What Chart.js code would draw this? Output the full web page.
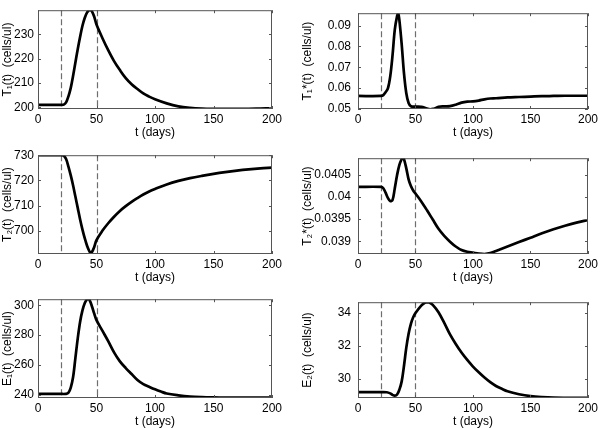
<!DOCTYPE html>
<html>
<head>
<meta charset="utf-8">
<script src="https://cdn.jsdelivr.net/npm/chart.js@4.4.0/dist/chart.umd.min.js"></script>
<style>
  html, body { margin: 0; padding: 0; background: #fff; }
  #wrap { position: relative; width: 601px; height: 428px; overflow: hidden; background: #fff; }
  #wrap canvas { position: absolute; }
</style>
</head>
<body>
<div id="wrap">
  <canvas id="t1" width="300" height="140" style="left:0;top:-1px"></canvas>
  <canvas id="t1s" width="301" height="140" style="left:300px;top:-1px"></canvas>
  <canvas id="t2" width="300" height="140" style="left:0;top:144px"></canvas>
  <canvas id="t2s" width="301" height="140" style="left:300px;top:144px"></canvas>
  <canvas id="e1" width="300" height="140" style="left:0;top:288px"></canvas>
  <canvas id="e2" width="301" height="140" style="left:300px;top:288px"></canvas>
</div>
<script>
// shared x axis
const dayTicks = [0, 50, 100, 150, 200];
const markerDays = [20, 50];

// T1(t)
const t1Days = [0, 20, 22, 24, 26, 28, 30, 32, 34, 36, 38, 40, 42, 44, 45, 46, 48, 50, 55, 60, 65, 70, 75, 80, 85, 90, 95, 100, 110, 120, 130, 140, 150, 160, 170, 180, 190, 200];
const t1Values = [201, 201, 201.1, 202, 204.5, 208, 213, 218.5, 224, 229, 233.5, 236.8, 239, 240, 240, 239.5, 237.3, 234, 228.5, 223.5, 219, 215.3, 212, 209.5, 207.5, 205.7, 204.4, 203.3, 201.6, 200.4, 199.8, 199.5, 199.4, 199.4, 199.4, 199.4, 199.5, 199.6];
const t1Ticks = [200, 210, 220, 230];

// T1*(t)
const t1sDays = [0, 20, 22, 24, 26, 28, 30, 32, 34, 35, 36, 38, 40, 42, 44, 46, 50, 55, 60, 63, 66, 70, 75, 80, 85, 90, 95, 100, 105, 110, 115, 120, 130, 140, 150, 160, 170, 180, 190, 200];
const t1sValues = [0.0562, 0.0562, 0.0566, 0.058, 0.0598, 0.0655, 0.0755, 0.088, 0.0945, 0.0958, 0.0925, 0.081, 0.067, 0.0575, 0.0528, 0.0513, 0.0511, 0.051, 0.0502, 0.0498, 0.05, 0.051, 0.0512, 0.0513, 0.052, 0.053, 0.0535, 0.0536, 0.054, 0.0546, 0.055, 0.0551, 0.0555, 0.0557, 0.0559, 0.0561, 0.0562, 0.0563, 0.0563, 0.0563];
const t1sTicks = [0.05, 0.06, 0.07, 0.08, 0.09];

// T2(t)
const t2Days = [0, 20, 22, 24, 26, 28, 30, 32, 34, 36, 38, 40, 42, 44, 45, 46, 48, 50, 55, 60, 65, 70, 75, 80, 85, 90, 95, 100, 110, 120, 130, 140, 150, 160, 170, 180, 190, 200];
const t2Values = [730, 730, 729.8, 728.5, 725.5, 722, 718, 713.5, 709, 704.5, 700.5, 697, 694, 691.8, 691.2, 691.5, 693.5, 696.3, 700, 703, 705.6, 707.9, 709.8, 711.5, 713, 714.4, 715.6, 716.6, 718.4, 719.8, 720.9, 721.8, 722.6, 723.3, 723.9, 724.4, 724.8, 725.1];
const t2Ticks = [700, 710, 720, 730];

// T2*(t)
const t2sDays = [0, 20, 22, 24, 26, 28, 30, 32, 34, 36, 38, 39, 40, 42, 44, 46, 48, 50, 55, 60, 65, 70, 75, 80, 85, 90, 95, 100, 105, 110, 115, 120, 130, 140, 150, 160, 170, 180, 190, 200];
const t2sValues = [0.04023, 0.04023, 0.0402, 0.0401, 0.03998, 0.03991, 0.03993, 0.0402, 0.0405, 0.04073, 0.04086, 0.0409, 0.04086, 0.04065, 0.0404, 0.04025, 0.04015, 0.04008, 0.0399, 0.0397, 0.03949, 0.03928, 0.03912, 0.03899, 0.03888, 0.0388, 0.03876, 0.03874, 0.03872, 0.03871, 0.03873, 0.03878, 0.03888, 0.03898, 0.03908, 0.03918, 0.03927, 0.03935, 0.03942, 0.03948];
const t2sTicks = [0.039, 0.0395, 0.04, 0.0405];

// E1(t)
const e1Days = [0, 20, 24, 26, 28, 30, 32, 34, 36, 38, 40, 42, 43, 44, 46, 48, 50, 55, 60, 65, 70, 75, 80, 85, 90, 95, 100, 105, 110, 120, 130, 140, 150, 160, 180, 200];
const e1Values = [240.7, 240.7, 240.8, 241.5, 245, 252, 265, 278, 289, 296.5, 301.5, 304, 304.2, 303.5, 299.5, 294.5, 290, 283, 276, 268.5, 262.5, 258, 254, 250, 247.3, 245.5, 243.8, 242.3, 241, 239.8, 239, 238.6, 238.4, 238.3, 238.3, 238.3];
const e1Ticks = [240, 260, 280, 300];

// E2(t)
const e2Days = [0, 20, 25, 28, 30, 32, 34, 36, 38, 40, 42, 44, 46, 48, 50, 55, 58, 60, 62, 65, 70, 75, 80, 85, 90, 95, 100, 105, 110, 115, 120, 125, 130, 140, 150, 160, 170, 185, 200];
const e2Values = [29.2, 29.2, 29.19, 29.12, 29.03, 28.98, 29.05, 29.35, 29.85, 30.8, 31.9, 32.75, 33.35, 33.75, 34.0, 34.45, 34.62, 34.66, 34.64, 34.5, 34.05, 33.4, 32.7, 32.12, 31.6, 31.15, 30.75, 30.4, 30.08, 29.8, 29.57, 29.4, 29.25, 29.07, 28.95, 28.89, 28.86, 28.85, 28.85];
const e2Ticks = [30, 32, 34];

Chart.defaults.font.family = '"Liberation Sans", Arial, sans-serif';
Chart.defaults.font.size = 12;
Chart.defaults.color = '#000';

// MATLAB-style box, inward ticks and dashed markers
const framePlugin = {
    id: 'frame',
    beforeDatasetsDraw(chart) {
        const { ctx, chartArea: a, scales: { x } } = chart;
        ctx.save();
        ctx.strokeStyle = '#6e6e6e';
        ctx.lineWidth = 1.2;
        ctx.setLineDash([6, 3]);
        markerDays.forEach(d => {
            const px = Math.round(x.getPixelForValue(d)) + 0.5;
            ctx.beginPath();
            ctx.moveTo(px, a.top);
            ctx.lineTo(px, a.bottom);
            ctx.stroke();
        });
        ctx.restore();
    },
    afterDraw(chart) {
        const { ctx, chartArea: a, scales: { x, y } } = chart;
        ctx.save();
        ctx.strokeStyle = '#555';
        ctx.lineWidth = 1;
        ctx.strokeRect(a.left + 0.5, a.top + 0.5, a.right - a.left - 1, a.bottom - a.top - 1);
        ctx.beginPath();
        x.ticks.forEach(t => {
            const px = Math.round(x.getPixelForValue(t.value)) + 0.5;
            ctx.moveTo(px, a.bottom); ctx.lineTo(px, a.bottom - 3);
            ctx.moveTo(px, a.top); ctx.lineTo(px, a.top + 3);
        });
        y.ticks.forEach(t => {
            const py = Math.round(y.getPixelForValue(t.value)) + 0.5;
            ctx.moveTo(a.left, py); ctx.lineTo(a.left + 3, py);
            ctx.moveTo(a.right, py); ctx.lineTo(a.right - 3, py);
        });
        ctx.stroke();
        ctx.restore();
    }
};

const panels = [
    { id: 't1', days: t1Days, values: t1Values, yTicks: t1Ticks, yMin: 199.3, yMax: 239.9, label: 'T\u2081(t)  (cells/ul)', right: false },
    { id: 't1s', days: t1sDays, values: t1sValues, yTicks: t1sTicks, yMin: 0.04995, yMax: 0.0959, label: 'T\u2081*(t)  (cells/ul)', right: true },
    { id: 't2', days: t2Days, values: t2Values, yTicks: t2Ticks, yMin: 690.8, yMax: 730, label: 'T\u2082(t)  (cells/ul)', right: false },
    { id: 't2s', days: t2sDays, values: t2sValues, yTicks: t2sTicks, yMin: 0.03871, yMax: 0.04088, label: 'T\u2082*(t)  (cells/ul)', right: true },
    { id: 'e1', days: e1Days, values: e1Values, yTicks: e1Ticks, yMin: 238, yMax: 304, label: 'E\u2081(t)  (cells/ul)', right: false },
    { id: 'e2', days: e2Days, values: e2Values, yTicks: e2Ticks, yMin: 28.84, yMax: 34.66, label: 'E\u2082(t)  (cells/ul)', right: true }
];

panels.forEach(p => {
    new Chart(document.getElementById(p.id), {
        type: 'line',
        data: {
            datasets: [{
                data: p.days.map((d, i) => ({ x: d, y: p.values[i] })),
                borderColor: '#000',
                borderWidth: 2.7,
                pointRadius: 0,
                tension: 0.35,
                fill: false
            }]
        },
        options: {
            responsive: false,
            animation: false,
            events: [],
            layout: { padding: { left: 0, right: p.right ? 10 : 28, top: 1, bottom: 0 } },
            plugins: { legend: { display: false }, tooltip: { enabled: false } },
            scales: {
                x: {
                    type: 'linear',
                    min: 0,
                    max: 200,
                    afterBuildTicks: s => { s.ticks = dayTicks.map(v => ({ value: v })); },
                    afterFit: s => { s.height = 30; },
                    grid: { display: false, drawTicks: false },
                    border: { display: false },
                    ticks: { padding: 3, maxRotation: 0, autoSkip: false },
                    title: { display: true, text: 't (days)', padding: { top: 0, bottom: -1 } }
                },
                y: {
                    type: 'linear',
                    min: p.yMin,
                    max: p.yMax,
                    afterBuildTicks: s => { s.ticks = p.yTicks.map(v => ({ value: v })); },
                    afterFit: s => { s.width = p.right ? 58 : 38; },
                    grid: { display: false, drawTicks: false },
                    border: { display: false },
                    ticks: { padding: p.right ? 7 : 4, callback: v => String(v) },
                    title: { display: true, text: p.label, padding: 0 }
                }
            }
        },
        plugins: [framePlugin]
    });
});
</script>
</body>
</html>
